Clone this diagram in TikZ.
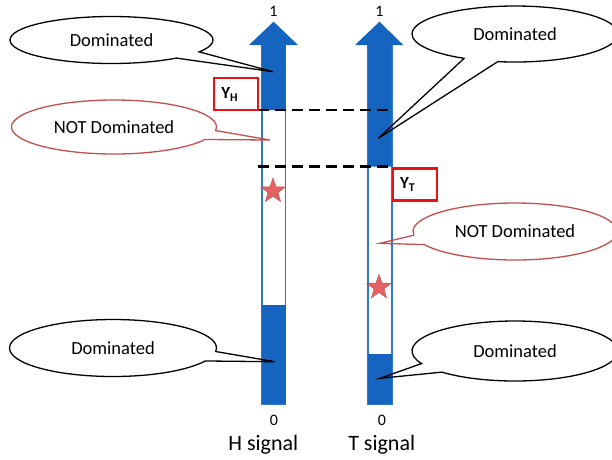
\documentclass[tikz,border=0pt]{standalone}
\usepackage{fontspec}
\setmainfont{Carlito}
\usepackage{tikz}
\usetikzlibrary{shapes.geometric, shapes.callouts}
\definecolor{barblue}{RGB}{21, 101, 192}
\definecolor{edgeblue}{RGB}{45, 120, 200}
\definecolor{boxred}{RGB}{230, 20, 20}
\definecolor{callred}{RGB}{192, 80, 77}
\definecolor{starred}{RGB}{228, 98, 98}

\begin{document}
\begin{tikzpicture}[x=1pt, y=-1pt,
    callbase/.style={ellipse callout, line width=1.3pt, inner sep=0pt, callout pointer arc=20, font=\fontsize{18.5}{20}\selectfont},
    dom/.style={callbase, draw=black},
    notdom/.style={callbase, draw=callred},
    ybox/.style={draw=boxred, line width=2.2pt, minimum height=32pt, text width=30pt, inner xsep=7pt, inner ysep=0pt, align=left, font=\bfseries\fontsize{17}{18}\selectfont},
    starmark/.style={star, star points=5, star point ratio=2.5, fill=starred, draw=starred!80!black, line width=0.4pt, minimum size=26pt, inner sep=0pt},
    level/.style={line width=2.8pt, dash pattern=on 11pt off 6pt},
    digit/.style={font=\fontsize{16}{18}\selectfont},
    signame/.style={font=\fontsize{22}{24}\selectfont}]
  \useasboundingbox (0,0) rectangle (612,459);
  \clip (0,0) rectangle (612,459);

  % H signal bar
  \fill[white, draw=edgeblue, line width=1.6pt] (261.7,45) rectangle (285.5,404);
  \fill[barblue] (261.7,110) -- (261.7,45) -- (249,45) -- (273.6,21.7) -- (298,45) -- (285.5,45) -- (285.5,110) -- cycle;
  \fill[barblue] (261.7,305) rectangle (285.5,404);

  % T signal bar
  \fill[white, draw=edgeblue, line width=1.6pt] (368,45) rectangle (391.7,404);
  \fill[barblue] (368,166.7) -- (368,45) -- (355,45) -- (379.5,21.7) -- (403.3,45) -- (391.7,45) -- (391.7,166.7) -- cycle;
  \fill[barblue] (368,354) rectangle (391.7,404);

  % thresholds
  \coordinate (hLvlTop) at (258,110);
  \coordinate (tLvlTop) at (393,110);
  \coordinate (hLvlLow) at (258,166.7);
  \coordinate (tLvlLow) at (393,166.7);
  \draw[level] (hLvlTop) -- (tLvlTop);
  \draw[level] (hLvlLow) -- (tLvlLow);

  \node[ybox] (yH) at (236.3,94.2) {Y\textsubscript{H}};
  \node[ybox] (yT) at (415,184.5) {Y\textsubscript{T}};

  \node[starmark] (hStar) at (273,191) {};
  \node[starmark] (tStar) at (379,287.3) {};

  \node[digit] (hOne) at (273.5,11.7) {1};
  \node[digit] (tOne) at (379.5,11.7) {1};
  \node[digit] (hZero) at (274,420.7) {0};
  \node[digit] (tZero) at (382,420.7) {0};
  \node[signame] (hName) at (263.3,445) {H signal};
  \node[signame] (tName) at (381.7,445) {T signal};

  % callouts
  \coordinate (hTopTip) at (273,71.7);
  \coordinate (hMidTip) at (270,140);
  \coordinate (hLowTip) at (275,361.7);
  \coordinate (tTopTip) at (378.3,138.3);
  \coordinate (tMidTip) at (380,243.3);
  \coordinate (tLowTip) at (380,378.3);
  \node[dom, minimum width=203pt, minimum height=47pt, callout absolute pointer={(hTopTip)}] (domHTop) at (111.5,40) {Dominated};
  \node[notdom, minimum width=205pt, minimum height=54pt, callout absolute pointer={(hMidTip)}] (notH) at (114,127) {NOT Dominated};
  \node[dom, minimum width=207pt, minimum height=57pt, callout absolute pointer={(hLowTip)}] (domHLow) at (113,348) {Dominated};
  \node[dom, minimum width=206pt, minimum height=56pt, callout absolute pointer={(tTopTip)}] (domTTop) at (515,34) {Dominated};
  \node[notdom, minimum width=204pt, minimum height=57pt, callout absolute pointer={(tMidTip)}] (notT) at (515,231.5) {NOT Dominated};
  \node[dom, minimum width=206pt, minimum height=60pt, callout absolute pointer={(tLowTip)}] (domTLow) at (515,351) {Dominated};
\end{tikzpicture}
\end{document}
